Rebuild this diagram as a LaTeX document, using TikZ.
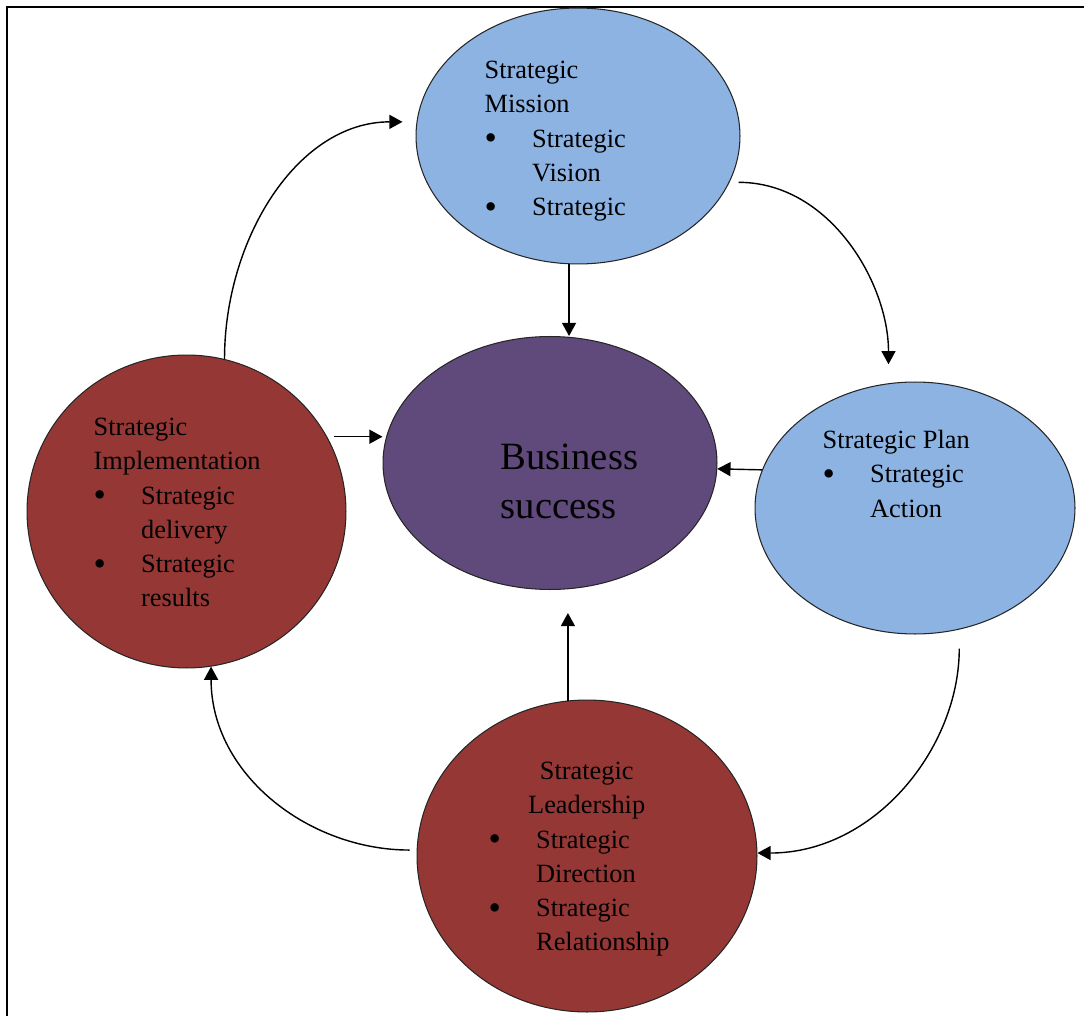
\documentclass[tikz,border=0pt]{standalone}
\usepackage{fontspec}
\setmainfont{Liberation Serif}
\usetikzlibrary{arrows.meta}
\usetikzlibrary{shapes.geometric}
\definecolor{skyblue}{HTML}{8DB3E2}
\definecolor{brick}{HTML}{953735}
\definecolor{plum}{HTML}{604A7B}
\tikzstyle{blob}=[ellipse, draw=black!85, line width=0.6pt, inner sep=0pt]
\tikzstyle{txt}=[inner sep=0pt, anchor=north west, font={\fontsize{15pt}{19.5pt}\selectfont}]
\newcommand{\bul}{\makebox[0.95cm][l]{\raisebox{-1.3pt}{\fontsize{20pt}{19.5pt}\selectfont\textbullet}}}
\newcommand{\ind}{\hspace*{0.95cm}}

\begin{document}
\begin{tikzpicture}[x=0.02cm,y=0.02cm,>={Triangle[length=7.5pt,width=8pt]},line width=0.8pt]
  \useasboundingbox (0,0) rectangle (1084,-1016);
  \draw[line width=1.2pt] (7,-1016) -- (7,-7) -- (1084,-7);

    \node [blob, fill=skyblue, minimum width=6.48cm, minimum height=5.12cm] (mission) at (578,-136) {};
    \node [blob, fill=plum, minimum width=6.68cm, minimum height=5.06cm] (business) at (550,-463) {};
    \node [blob, fill=skyblue, minimum width=6.4cm, minimum height=5.04cm] (plan) at (915,-508) {};
    \node [blob, fill=brick, minimum width=6.38cm, minimum height=6.26cm] (impl) at (186.5,-511.5) {};
    \node [blob, fill=brick, minimum width=6.8cm, minimum height=6.24cm] (lead) at (587,-856) {};

    % texts inside the ellipses
    \node [txt] (missiontxt) at (484,-54) {\begin{tabular}{@{}l@{}}Strategic\\Mission\\\bul Strategic\\\ind Vision\\\bul Strategic\end{tabular}};
    \node [txt, font={\fontsize{22pt}{28pt}\selectfont}] (businesstxt) at (500,-434) {\begin{tabular}{@{}l@{}}Business\\success\end{tabular}};
    \node [txt] (plantxt) at (822,-424) {\begin{tabular}{@{}l@{}}Strategic Plan\\\bul Strategic\\\ind Action\end{tabular}};
    \node [txt] (impltxt) at (93,-411) {\begin{tabular}{@{}l@{}}Strategic\\Implementation\\\bul Strategic\\\ind delivery\\\bul Strategic\\\ind results\end{tabular}};
    \node [txt] (leadtxt) at (488,-755) {\begin{tabular}{@{}l@{}}\makebox[3.92cm]{Strategic}\\\makebox[3.92cm]{Leadership}\\\bul Strategic\\\ind Direction\\\bul Strategic\\\ind Relationship\end{tabular}};

    \path[->] (mission.266) edge (mission.266 |- business.north);
    \path[->, shorten <=0.14cm] (impl.28) edge (impl.28 -| business.west);
    \path[->] (plan.166) edge (business.358);
    \path[->, shorten >=0.46cm] (lead.97) edge (lead.97 |- business.south);

    % the cycle round the centre
    \path[->, shorten >=0.28cm] (impl.76) edge[out=90, in=180] (mission.175);
    \path[->, shorten <=0.18cm, shorten >=0.38cm] (mission.343) edge[out=0, in=90] (plan.102);
    \path[->, shorten <=0.38cm] (plan.290) edge[out=-90, in=0] (lead.1);
    \path[->, shorten <=0.14cm] (lead.178) edge[out=180, in=-90] (impl.279);
\end{tikzpicture}
\end{document}
